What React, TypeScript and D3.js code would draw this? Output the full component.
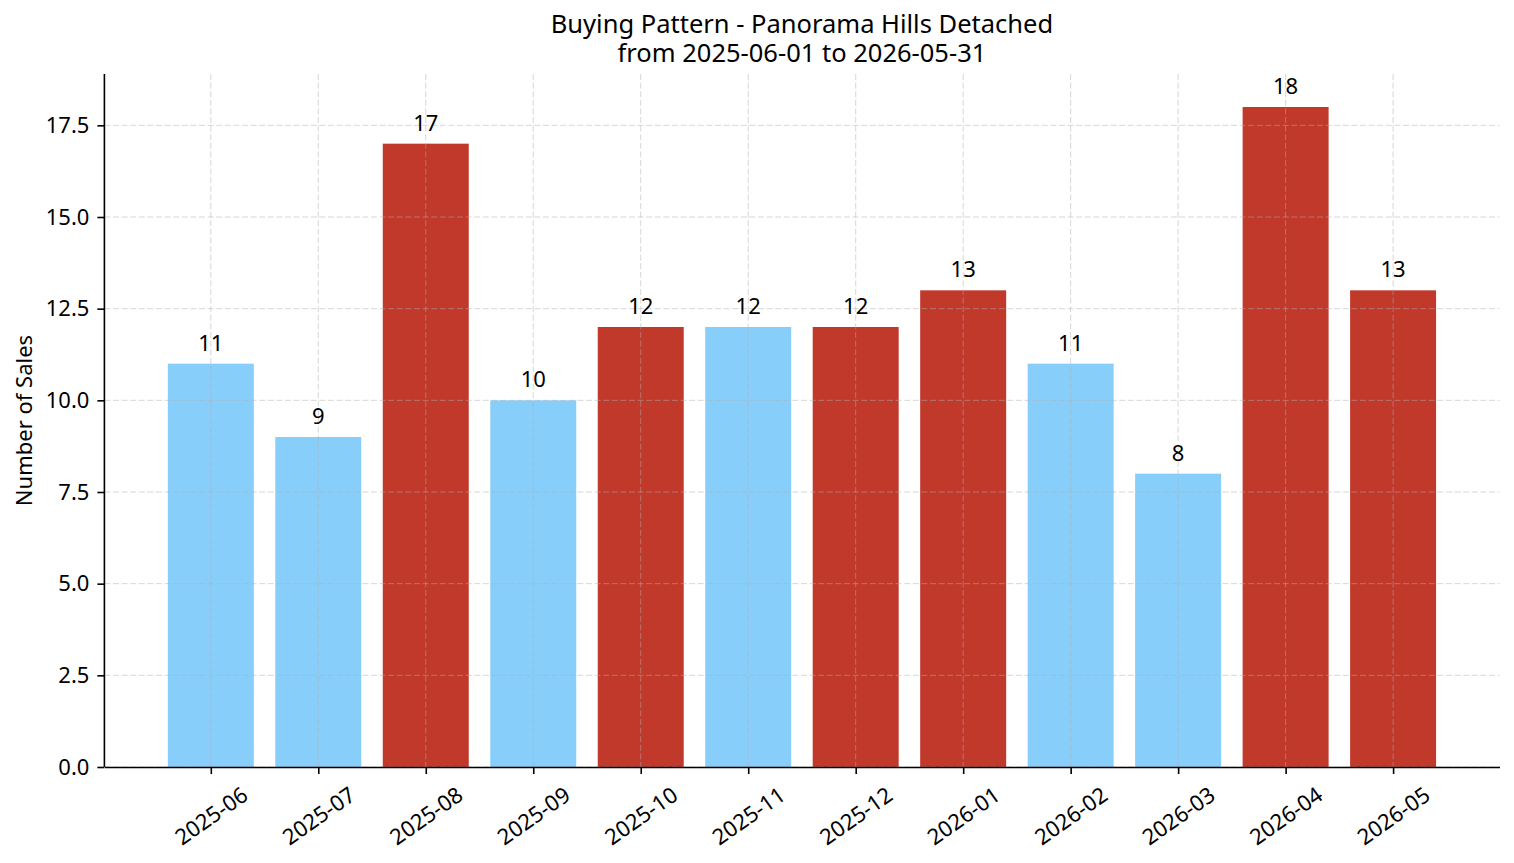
import React, { useEffect, useRef } from 'react';
import * as d3 from 'd3';

const months = ['2025-06', '2025-07', '2025-08', '2025-09', '2025-10', '2025-11', '2025-12', '2026-01', '2026-02', '2026-03', '2026-04', '2026-05'];
const sales = [11, 9, 17, 10, 12, 12, 12, 13, 11, 8, 18, 13];
const isHigh = [false, false, true, false, true, false, true, true, false, false, true, true];
const yTicks = [0, 2.5, 5, 7.5, 10, 12.5, 15, 17.5];

const App = () => {
    const ref = useRef<SVGSVGElement>(null);

    useEffect(() => {
        const svg = d3.select(ref.current);
        svg.selectAll("*").remove();

        const margin = { top: 74, right: 14.5, bottom: 96, left: 104.4 };
        const W = 1514, H = 863;
        const width = W - margin.left - margin.right;
        const height = H - margin.top - margin.bottom;
        const font = "'Noto Sans', 'Open Sans', sans-serif";

        const g = svg.append("g").attr("transform", `translate(${margin.left},${margin.top})`);

        // matplotlib-like x limits: bar width 0.8 plus 5% margin
        const n = months.length;
        const lo = -0.4, hi = n - 1 + 0.4, pad = (hi - lo) * 0.05;
        const x = d3.scaleLinear().domain([lo - pad, hi + pad]).range([0, width]);
        const y = d3.scaleLinear().domain([0, d3.max(sales)! * 1.05]).range([height, 0]);
        const bw = x(0.8) - x(0);

        // bars
        g.selectAll("rect.bar")
            .data(sales)
            .enter().append("rect")
            .attr("x", (d, i) => x(i) - bw / 2)
            .attr("y", d => y(d))
            .attr("width", bw)
            .attr("height", d => height - y(d))
            .attr("fill", (d, i) => isHigh[i] ? "#c0392b" : "#87cefa");

        // grid on top of bars
        const gridLine = (sel) => sel
            .attr("stroke", "#b0b0b0").attr("stroke-opacity", 0.5)
            .attr("stroke-dasharray", "6,2.6").attr("stroke-width", 1);
        yTicks.forEach(t => {
            g.append("line")
                .attr("x1", 0).attr("x2", width)
                .attr("y1", y(t)).attr("y2", y(t))
                .call(gridLine);
        });
        months.forEach((m, i) => {
            g.append("line")
                .attr("x1", x(i)).attr("x2", x(i))
                .attr("y1", 0).attr("y2", height)
                .call(gridLine);
        });

        // value labels
        g.selectAll("text.val")
            .data(sales)
            .enter().append("text")
            .attr("x", (d, i) => x(i))
            .attr("y", d => y(d) - 13)
            .attr("text-anchor", "middle")
            .style("font-family", font)
            .style("font-size", "22px")
            .style("fill", "#000")
            .text(d => d);

        // y axis
        const yAxis = g.append("g")
            .call(d3.axisLeft(y).tickValues(yTicks).tickFormat(d => (+d).toFixed(1)).tickSize(7).tickPadding(8));
        yAxis.select(".domain").attr("stroke", "#000").attr("stroke-width", 1.6).attr("d", `M0,${height}V0`);
        yAxis.selectAll(".tick line").attr("stroke", "#000").attr("stroke-width", 1.6);
        yAxis.selectAll("text").style("font-family", font).style("font-size", "22px").style("fill", "#000");

        // x axis
        const xAxis = g.append("g")
            .attr("transform", `translate(0,${height})`)
            .call(d3.axisBottom(x).tickValues(d3.range(n)).tickFormat((d) => months[+d]).tickSize(7).tickSizeOuter(0));
        xAxis.select(".domain").attr("stroke", "#000").attr("stroke-width", 1.6);
        xAxis.selectAll(".tick line").attr("stroke", "#000").attr("stroke-width", 1.6);
        xAxis.selectAll("text")
            .style("font-family", font).style("font-size", "22px").style("fill", "#000")
            .attr("text-anchor", "middle")
            .attr("y", 0)
            .attr("dy", "0.35em")
            .attr("transform", "translate(0,49) rotate(-35)");

        // y label
        g.append("text")
            .attr("transform", "rotate(-90)")
            .attr("x", -height / 2)
            .attr("y", 31.5 - margin.left)
            .attr("text-anchor", "middle")
            .style("font-family", font).style("font-size", "22px").style("fill", "#000")
            .text("Number of Sales");

        // title, two lines
        const titleLines = ["Buying Pattern - Panorama Hills Detached", "from 2025-06-01 to 2026-05-31"];
        titleLines.forEach((t, i) => {
            svg.append("text")
                .attr("x", margin.left + width / 2)
                .attr("y", 33 + i * 29)
                .attr("text-anchor", "middle")
                .style("font-family", font).style("font-size", "25.5px").style("fill", "#000")
                .text(t);
        });
    }, []);

    return (
        <div style={{ position: 'absolute', left: 0, top: 0 }}>
            <svg ref={ref} width={1514} height={863} style={{ background: '#fff', display: 'block' }} />
        </div>
    );
};

export default App;
